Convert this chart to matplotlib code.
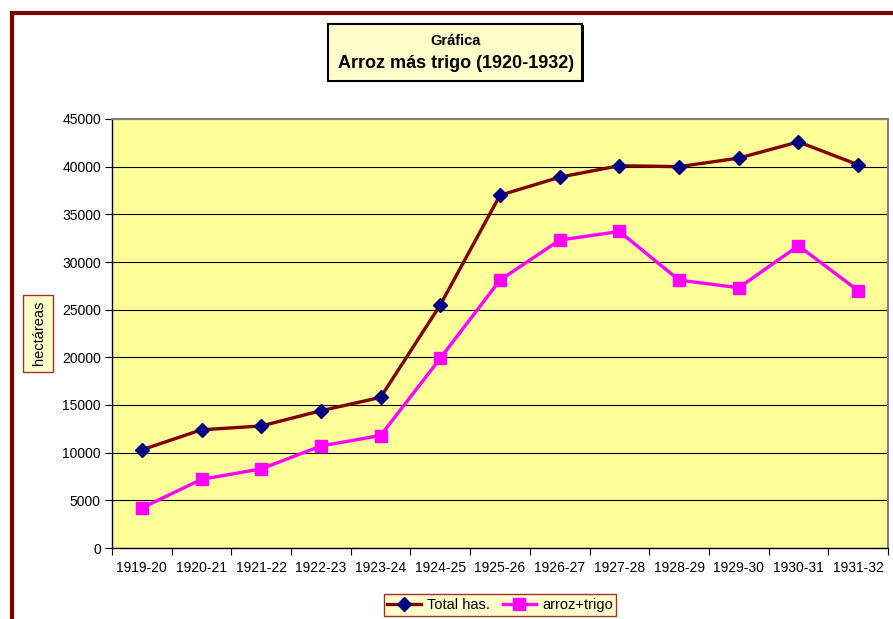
import numpy as np
import matplotlib.pyplot as plt
from matplotlib.patches import Rectangle

plt.rcParams['font.family'] = ['Liberation Sans', 'DejaVu Sans']

periodos = ['1919-20', '1920-21', '1921-22', '1922-23', '1923-24', '1924-25', '1925-26',
            '1926-27', '1927-28', '1928-29', '1929-30', '1930-31', '1931-32']
total = [10300, 12400, 12800, 14400, 15800, 25500, 37000,
         38900, 40100, 40000, 40900, 42600, 40200]
arroz_trigo = [4200, 7200, 8300, 10700, 11800, 19900, 28100,
               32300, 33200, 28100, 27300, 31700, 27000]

fig = plt.figure(figsize=(8.93, 6.19), dpi=100)
fig.patch.set_facecolor('white')

# marco exterior rojo oscuro (cortado a la derecha y abajo)
fig.patches.append(Rectangle((12/893, -0.05), 1.2, 1 - 13/619 + 0.05, transform=fig.transFigure,
                             fill=False, edgecolor='#800000', linewidth=3))

ax = fig.add_axes([112/893, 1 - 548/619, 776/893, 429/619])
ax.set_facecolor('#FFFF99')

x = np.arange(len(periodos))
ax.plot(x, total, color='#800000', lw=2.4, marker='D', ms=7.5,
        mfc='#000080', mec='#000080', label='Total has.', zorder=3)
ax.plot(x, arroz_trigo, color='#FF00FF', lw=2.4, marker='s', ms=9,
        mfc='#FF00FF', mec='#FF00FF', label='arroz+trigo', zorder=3)

ax.set_xlim(-0.5, len(periodos) - 0.5)
ax.set_ylim(0, 45000)
ax.set_yticks(np.arange(0, 45001, 5000))
ax.set_xticks(np.arange(-0.5, len(periodos), 1.0))
ax.set_xticklabels([])
ax.set_xticks(x, minor=True)
ax.set_xticklabels(periodos, minor=True)
ax.tick_params(axis='x', which='minor', length=0, pad=9, labelsize=10)
ax.tick_params(axis='x', which='major', length=5, direction='out', color='black')
ax.tick_params(axis='y', length=5, direction='out', labelsize=10, pad=3)
ax.grid(axis='y', color='black', lw=0.8)
ax.set_axisbelow(True)
for s in ['top', 'right']:
    ax.spines[s].set_color('#808080')
    ax.spines[s].set_linewidth(1.5)
for s in ['left', 'bottom']:
    ax.spines[s].set_color('black')
    ax.spines[s].set_linewidth(1)

# etiqueta eje y
fig.patches.append(Rectangle((23/893, 1 - 372/619), 30/893, 77/619, transform=fig.transFigure,
                             fc='#FFFFCC', ec='#A0302A', lw=1))
fig.text(38.5/893, 1 - 333/619, 'hectáreas', rotation=90, ha='center', va='center', fontsize=10.5)

# titulo en recuadro
fig.patches.append(Rectangle((330/893, 1 - 82/619), 254/893, 57/619, transform=fig.transFigure,
                             fc='black', ec='black', lw=0, zorder=4))
fig.patches.append(Rectangle((328/893, 1 - 81/619), 254/893, 57/619, transform=fig.transFigure,
                             fc='#FFFFCC', ec='black', lw=1.5, zorder=5))
fig.text(456/893, 1 - 41/619, 'Gráfica', ha='center', va='center', fontsize=10.5,
         fontweight='bold', zorder=6)
fig.text(456/893, 1 - 63/619, 'Arroz más trigo (1920-1932)', ha='center', va='center',
         fontsize=13, fontweight='bold', zorder=6)

leg = fig.legend(loc='center', bbox_to_anchor=(500/893, 1 - 605/619), ncol=2, fontsize=10.5,
                 frameon=True, fancybox=False, handlelength=2.3, columnspacing=0.9,
                 handletextpad=0.4, borderpad=0.25, borderaxespad=0)
leg.get_frame().set_facecolor('#FFFFCC')
leg.get_frame().set_edgecolor('#A0302A')
leg.get_frame().set_alpha(1)

fig.savefig('out.png', dpi=100)
